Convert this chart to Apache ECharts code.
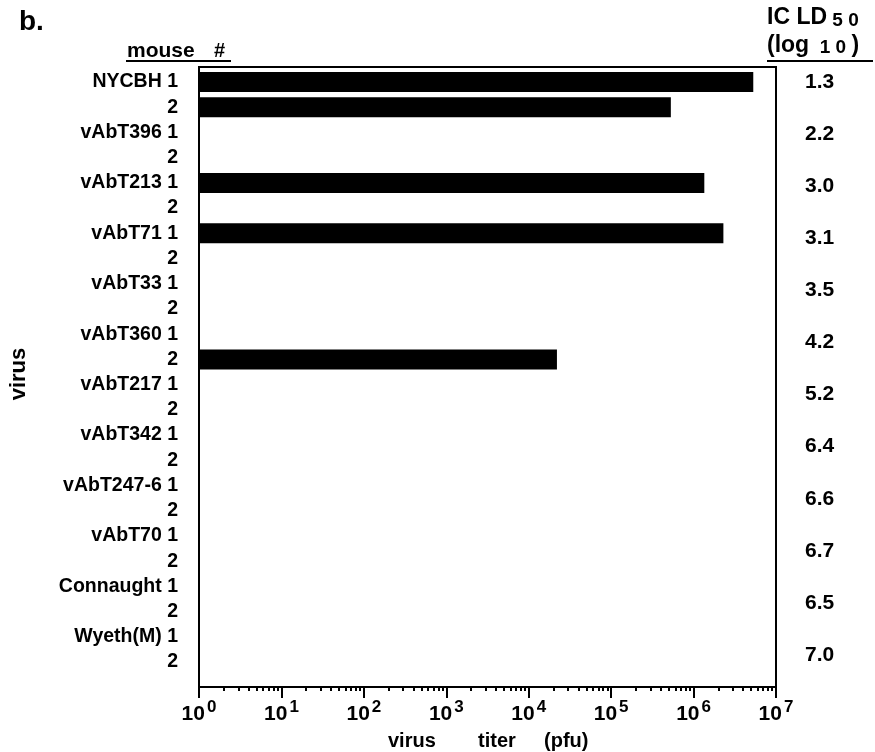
<!DOCTYPE html>
<html><head><meta charset="utf-8">
<script src="https://cdn.jsdelivr.net/npm/echarts@6/dist/echarts.min.js"></script>
<style>html,body{margin:0;padding:0;background:#fff}#c{width:875px;height:752px}</style>
</head><body><div id="c"></div>
<script>
// ---- data ----
var viruses = ['NYCBH','vAbT396','vAbT213','vAbT71','vAbT33','vAbT360','vAbT217','vAbT342','vAbT247-6','vAbT70','Connaught','Wyeth(M)'];
var mice = ['1','2'];
var icLD50 = ['1.3','2.2','3.0','3.1','3.5','4.2','5.2','6.4','6.6','6.7','6.5','7.0'];
// virus titer (pfu) per row: virus x mouse (null = no detectable virus)
var titer = [5.3e6, 5.3e5, null, null, 1.35e6, null, 2.3e6, null, null, null, null, 2.2e4,
             null, null, null, null, null, null, null, null, null, null, null, null];
var xMin = 1, xMax = 1e7;
var minorTickValues = [];
for (var d = 0; d < 7; d++) for (var m = 2; m <= 9; m++) minorTickValues.push(m * Math.pow(10, d));

var rows = [];
viruses.forEach(function (v) { mice.forEach(function (m) { rows.push(v + ' ' + m); }); });

var FONT = 'Liberation Sans';
var chart = echarts.init(document.getElementById('c'));
chart.setOption({
  animation: false,
  backgroundColor: '#fff',
  grid: [
    {left: 199, right: 99, top: 67, bottom: 65, show: true, borderColor: '#000', borderWidth: 2, backgroundColor: 'transparent'},
    {left: 199, right: 99, top: 69.4, bottom: 77.4},
    {left: 199, right: 99, top: 56, bottom: 71}
  ],
  xAxis: [
    {type: 'log', logBase: 10, min: xMin, max: xMax, gridIndex: 0, position: 'bottom',
     axisLine: {show: true, lineStyle: {color: '#000', width: 2}},
     axisTick: {show: true, inside: false, length: 11, lineStyle: {color: '#000', width: 2}},
     splitLine: {show: false}, minorTick: {show: false},
     axisLabel: {margin: 12, color: '#000', fontFamily: FONT, fontWeight: 'bold',
       formatter: function (v) { return '{b|10}{s|' + Math.round(Math.log10(v)) + '}'; },
       rich: {
         b: {fontSize: 21, fontFamily: FONT, fontWeight: 'bold', color: '#000', verticalAlign: 'bottom', lineHeight: 26},
         s: {fontSize: 17, fontFamily: FONT, fontWeight: 'bold', color: '#000', verticalAlign: 'top', padding: [0, 0, 10, 2], lineHeight: 26}
       }}},
    {type: 'log', logBase: 10, min: xMin, max: xMax, gridIndex: 0, position: 'bottom',
     axisLine: {show: false}, splitLine: {show: false}, axisLabel: {show: false},
     axisTick: {show: true, length: 4, customValues: minorTickValues, lineStyle: {color: '#000', width: 2}}},
    {type: 'log', logBase: 10, min: xMin, max: xMax, gridIndex: 1, show: false},
    {type: 'log', logBase: 10, min: xMin, max: xMax, gridIndex: 2, show: false}
  ],
  yAxis: [
    {type: 'category', gridIndex: 0, show: false, data: ['a']},
    {type: 'category', gridIndex: 1, inverse: true, data: rows,
     axisLine: {show: false}, axisTick: {show: false}, splitLine: {show: false},
     axisLabel: {interval: 0, hideOverlap: false, margin: 21, color: '#000', fontFamily: FONT, fontWeight: 'bold', fontSize: 19.5,
       formatter: function (val, idx) { return idx % 2 === 0 ? viruses[idx / 2] + ' ' + mice[0] : mice[1]; }}},
    {type: 'category', gridIndex: 2, inverse: true, position: 'right', data: viruses,
     axisLine: {show: false}, axisTick: {show: false}, splitLine: {show: false},
     axisLabel: {interval: 0, margin: 29, align: 'left', color: '#000', fontFamily: FONT, fontWeight: 'bold', fontSize: 21,
       formatter: function (val, idx) { return icLD50[idx]; }}}
  ],
  series: [
    {type: 'bar', xAxisIndex: 2, yAxisIndex: 1, data: titer.map(function (t) { return t == null ? '-' : t; }),
     barWidth: 20, itemStyle: {color: '#000'}}
  ],
  graphic: [
    {type: 'text', left: 19, top: 8, style: {text: 'b.', font: 'bold 28px "Liberation Sans"', fill: '#000'}},
    {type: 'text', left: 127, top: 41, style: {text: 'mouse', font: 'bold 21px "Liberation Sans"', fill: '#000'}},
    {type: 'text', left: 214, top: 41, style: {text: '#', font: 'bold 20px "Liberation Sans"', fill: '#000'}},
    {type: 'line', shape: {x1: 126, y1: 61, x2: 231, y2: 61}, style: {stroke: '#000', lineWidth: 2}},
    {type: 'text', left: 767, top: 6, style: {text: '{a|IC LD}{b| 5 0}', fill: '#000',
      rich: {a: {font: 'bold 23px "Liberation Sans"', fill: '#000'}, b: {font: 'bold 19px "Liberation Sans"', fill: '#000', padding: [6, 0, 0, 0]}}}},
    {type: 'text', left: 767, top: 34, style: {text: '{a|(log}{b|  1 0 }{a|)}', fill: '#000',
      rich: {a: {font: 'bold 23px "Liberation Sans"', fill: '#000'}, b: {font: 'bold 19px "Liberation Sans"', fill: '#000', padding: [5, 0, 0, 0]}}}},
    {type: 'line', shape: {x1: 767, y1: 61, x2: 873, y2: 61}, style: {stroke: '#000', lineWidth: 2}},
    {type: 'text', left: 388, top: 731, style: {text: 'virus', font: 'bold 20px "Liberation Sans"', fill: '#000'}},
    {type: 'text', left: 478, top: 731, style: {text: 'titer', font: 'bold 20px "Liberation Sans"', fill: '#000'}},
    {type: 'text', left: 544, top: 731, style: {text: '(pfu)', font: 'bold 20px "Liberation Sans"', fill: '#000'}},
    {type: 'text', x: 19, y: 374, rotation: Math.PI / 2, style: {text: 'virus', font: 'bold 22px "Liberation Sans"', fill: '#000', align: 'center', verticalAlign: 'middle'}}
  ]
});
</script></body></html>
